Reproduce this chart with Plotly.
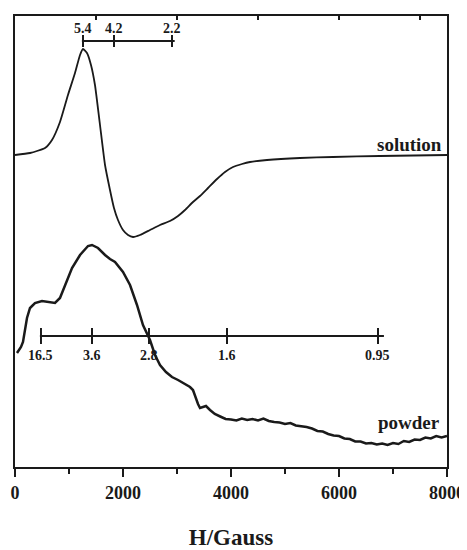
import plotly.graph_objects as go

# ---- data (field in Gauss, intensity in arbitrary units) ----
solution_H = [0, 278, 556, 685, 833, 981, 1111, 1204, 1259, 1333, 1407, 1481, 1574, 1667,
              1759, 1833, 1907, 2000, 2093, 2185, 2315, 2500, 2685, 2870, 3019, 3148, 3296,
              3426, 3574, 3741, 3889, 4037, 4204, 4352, 4667, 5278, 5889, 6759, 8000]
solution_I = [312, 314, 319, 327, 345, 372, 394, 412, 418, 414, 402, 382, 342, 302,
              277, 259, 247, 237, 232, 230, 232, 237, 242, 246, 251, 257, 265,
              271, 279, 288, 295, 300, 303, 305, 307, 309, 310, 311, 312]

powder_H = [37, 74, 111, 148, 185, 222, 278, 370, 500, 648, 741, 833, 926, 1056, 1204,
            1352, 1426, 1537, 1667, 1759, 1852, 2000, 2130, 2259, 2370, 2500, 2593, 2685,
            2796, 2907, 3019, 3148, 3241, 3296, 3333, 3389, 3426, 3481, 3537, 3611,
            3700, 3800, 3900, 4000, 4100, 4200, 4300, 4400, 4500, 4600, 4700, 4800, 4900,
            5000, 5100, 5200, 5300, 5400, 5500, 5600, 5700, 5800, 5900, 6000, 6100, 6200,
            6300, 6400, 6500, 6600, 6700, 6800, 6900, 7000, 7100, 7200, 7300, 7400, 7500,
            7600, 7700, 7800, 7900, 8000]
powder_I = [114, 117, 120, 125, 137, 149, 159, 164, 166, 165, 164, 169, 182, 199, 212,
            221, 222, 219, 212, 208, 205, 195, 182, 162, 142, 127, 112, 102,
            95, 90, 87, 83, 80, 77, 71, 63, 59, 60, 61, 57,
            53, 50.5, 48, 47.5, 46.5, 48.5, 47, 48, 46.5, 48.5, 46, 45, 44.5,
            43, 44, 41.5, 41, 40, 38.5, 36, 35.5, 33, 31.5, 31, 28.5, 28,
            25.5, 25.5, 23.5, 24, 22.5, 23.5, 22, 24, 23, 26, 25, 27.5, 27,
            29.5, 28.5, 31, 29.5, 31]

# g-value markers: labels and field positions (G)
top_g_labels = ["5.4", "4.2", "2.2"]
top_g_H = [1259, 1833, 2907]
bottom_g_labels = ["16.5", "3.6", "2.8", "1.6", "0.95"]
bottom_g_H = [481, 1426, 2481, 3926, 6722]

x_tick_vals = [0, 2000, 4000, 6000, 8000]
x_tick_text = ["0", "2000", "4000", "6000", "8000"]

FONT = "Liberation Serif"
INK = "#1a1a1a"

fig = go.Figure()
fig.add_trace(go.Scatter(x=solution_H, y=solution_I, mode="lines",
                         line=dict(color=INK, width=1.8, shape="spline", smoothing=0.5),
                         showlegend=False, hoverinfo="skip"))
fig.add_trace(go.Scatter(x=powder_H, y=powder_I, mode="lines",
                         line=dict(color=INK, width=2.5),
                         showlegend=False, hoverinfo="skip"))
# empty trace to register top axis
fig.add_trace(go.Scatter(x=[], y=[], xaxis="x2", showlegend=False, hoverinfo="skip"))

shapes = []
annotations = []

def marker_bar(hs, labels, y_bar, half, y_lab, extra_right):
    shapes.append(dict(type="line", xref="x", yref="y", x0=hs[0] - 20, x1=hs[-1] + extra_right,
                       y0=y_bar, y1=y_bar, line=dict(color=INK, width=2)))
    for h, lab in zip(hs, labels):
        shapes.append(dict(type="line", xref="x", yref="y", x0=h, x1=h,
                           y0=y_bar - half, y1=y_bar + half, line=dict(color=INK, width=2)))
        annotations.append(dict(x=h, y=y_lab, xref="x", yref="y", text=lab, showarrow=False,
                                font=dict(family=FONT, size=14, color=INK, weight="bold"),
                                xanchor="center", yanchor="middle"))

marker_bar(top_g_H, top_g_labels, 426, 6, 439, 50)
marker_bar(bottom_g_H, bottom_g_labels, 131, 8, 112, 110)

annotations.append(dict(x=7950, y=323, xref="x", yref="y", text="solution", showarrow=False,
                        font=dict(family=FONT, size=19, color=INK, weight="bold"),
                        xanchor="right", yanchor="middle"))
annotations.append(dict(x=7900, y=45, xref="x", yref="y", text="powder", showarrow=False,
                        font=dict(family=FONT, size=19, color=INK, weight="bold"),
                        xanchor="right", yanchor="middle"))

# the page body has an 8px margin, so the figure is sized to fit the window
fig.update_layout(
    width=459, height=542,
    margin=dict(l=7, r=20, t=8, b=83),
    paper_bgcolor="white", plot_bgcolor="white",
    font=dict(family=FONT, color=INK),
    shapes=shapes, annotations=annotations,
    xaxis=dict(range=[0, 8000], tickvals=x_tick_vals, ticktext=x_tick_text,
               automargin=False,
               ticks="outside", ticklen=8, tickwidth=2, tickcolor=INK,
               minor=dict(dtick=1000, tick0=0, ticks="outside", ticklen=5, tickwidth=2, tickcolor=INK),
               showline=True, linewidth=2, linecolor=INK, mirror=True,
               showgrid=False, zeroline=False,
               tickfont=dict(family=FONT, size=18, color=INK, weight="bold"),
               title=dict(text="H/Gauss", standoff=33,
                          font=dict(family=FONT, size=23, color=INK, weight="bold"))),
    xaxis2=dict(range=[0, 8000], overlaying="x", side="top", dtick=1500, tick0=0,
                automargin=False,
                ticks="inside", ticklen=4, tickwidth=2, tickcolor=INK,
                showticklabels=False, showline=False, showgrid=False, zeroline=False),
    yaxis=dict(range=[0, 451], showticklabels=False, ticks="", showgrid=False, zeroline=False,
               automargin=False,
               showline=True, linewidth=2, linecolor=INK, mirror=True),
)

fig.write_html("out.html")
